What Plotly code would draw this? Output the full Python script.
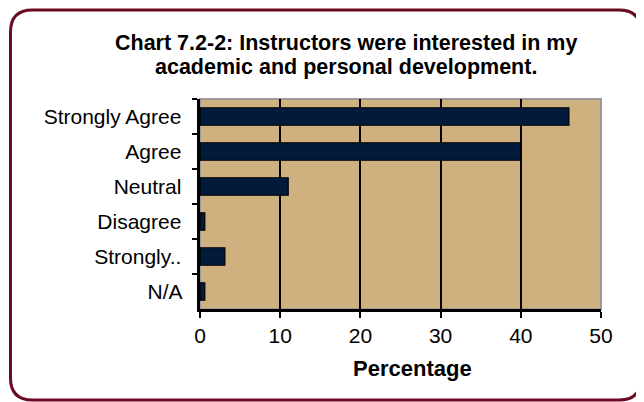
import plotly.graph_objects as go

categories = ["Strongly Agree", "Agree", "Neutral", "Disagree", "Strongly..", "N/A"]
percentages = [46, 40, 11, 0.6, 3.1, 0.6]
x_ticks = [0, 10, 20, 30, 40, 50]

W, H = 644, 402
OFF = 8  # page body margin shifts the figure by 8px
L, R, T, B = 200 - OFF, 51, 99 - OFF, 101
FONT = "Liberation Sans, Arial"


def px_x(p):
    # screen pixel -> paper x
    return (p - OFF - L) / (W - L - R)


def px_y(p):
    return (H - B - (p - OFF)) / (H - T - B)


def rounded_box(x0, y0, x1, y1, rad):
    ax0, ax1 = px_x(x0), px_x(x1)
    ay0, ay1 = px_y(y0), px_y(y1)
    rx = rad / (W - L - R)
    ry = rad / (H - T - B)
    return (
        f"M {ax0 + rx},{ay0} L {ax1 - rx},{ay0} Q {ax1},{ay0} {ax1},{ay0 - ry} "
        f"L {ax1},{ay1 + ry} Q {ax1},{ay1} {ax1 - rx},{ay1} "
        f"L {ax0 + rx},{ay1} Q {ax0},{ay1} {ax0},{ay1 + ry} "
        f"L {ax0},{ay0 - ry} Q {ax0},{ay0} {ax0 + rx},{ay0} Z"
    )


fig = go.Figure()
fig.add_trace(go.Bar(
    x=percentages, y=categories, orientation="h",
    marker=dict(color="#021B3B", line=dict(color="black", width=1.2)),
    width=0.5, showlegend=False, hoverinfo="skip",
))

fig.add_shape(type="path", xref="paper", yref="paper",
              path=rounded_box(10.5, 10, 641, 400, 22),
              line=dict(color="#6B0A22", width=3), layer="below")
fig.add_shape(type="rect", xref="paper", yref="paper", x0=0, x1=1, y0=0, y1=1,
              line=dict(color="#9A9A9A", width=2), layer="below")

for txt, yy in [("Chart 7.2-2: Instructors were interested in my", 43),
                ("academic and personal development.", 67)]:
    fig.add_annotation(
        text=f"<b>{txt}</b>", xref="paper", yref="paper",
        x=px_x(346), y=px_y(yy), xanchor="center", yanchor="middle",
        showarrow=False, font=dict(family=FONT, size=21.5, color="black"),
    )

fig.add_annotation(
    text="<b>Percentage</b>", xref="paper", yref="paper",
    x=px_x(412), y=px_y(368), xanchor="center", yanchor="middle",
    showarrow=False, font=dict(family=FONT, size=22, color="black"),
)

fig.update_layout(
    width=W, height=H,
    margin=dict(l=L, r=R, t=T, b=B),
    paper_bgcolor="white",
    plot_bgcolor="#CFB07F",
    font=dict(family=FONT, size=21, color="black"),
    xaxis=dict(
        range=[0, 50], tickvals=x_ticks, ticks="outside", ticklen=6,
        tickcolor="black", tickwidth=1.5,
        showline=True, linecolor="black", linewidth=2.5,
        showgrid=True, gridcolor="black", gridwidth=1.5, zeroline=False,
        fixedrange=True,
    ),
    yaxis=dict(
        autorange="reversed", ticks="outside", ticklen=5, tickson="boundaries",
        tickcolor="black", tickwidth=1.5,
        showline=True, linecolor="black", linewidth=2.5,
        showgrid=False, fixedrange=True, ticksuffix="  ",
    ),
)

fig.write_html("out.html")
